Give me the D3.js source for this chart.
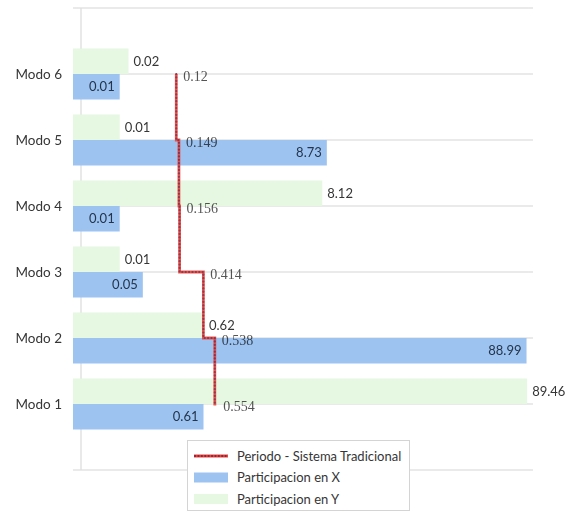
<!DOCTYPE html>
<html>
<head>
<meta charset="utf-8">
<script src="https://cdn.jsdelivr.net/npm/d3@7"></script>
<style>
  html, body { margin: 0; padding: 0; background: #fff; }
  svg { display: block; }
  .sans { font-family: Lato, "Open Sans", sans-serif; }
  .serif { font-family: "Liberation Serif", "DejaVu Serif", serif; }
</style>
</head>
<body>
<svg id="chart" width="574" height="513"></svg>
<script>
// Categories, bottom to top
const categories = ["Modo 1", "Modo 2", "Modo 3", "Modo 4", "Modo 5", "Modo 6"];
// Participacion en X (blue bars)
const partX = [0.61, 88.99, 0.05, 0.01, 8.73, 0.01];
// Participacion en Y (green bars)
const partY = [89.46, 0.62, 0.01, 8.12, 0.01, 0.02];
// Periodo - Sistema Tradicional (step line, secondary axis)
const periodo = [0.554, 0.538, 0.414, 0.156, 0.149, 0.12];
// Legend entries
const legendLabels = ["Periodo - Sistema Tradicional", "Participacion en X", "Participacion en Y"];

const svg = d3.select("#chart");
svg.append("rect").attr("width", 574).attr("height", 513).attr("fill", "#fff");

const plot = { left: 73, right: 533, top: 8, bottom: 470 };
const barH = 25.5;

const colX = "#9dc3f1";
const colY = "#e6f8e1";
const colLine = "#e5463a";
const colDots = "#8a2140";

// Vertical position: categories sit on integer positions 1..6
const y = d3.scaleLinear().domain([0, categories.length + 1]).range([plot.bottom, plot.top]);
// Bar length: compressed power scale so small shares remain visible
const xBar = d3.scalePow().exponent(0.25).domain([0, 95]).range([plot.left, plot.right + 1]);
// Secondary scale for the step line
const xSec = d3.scaleLinear().domain([-1, 4]).range([plot.left, plot.right + 1]);

// Horizontal gridlines
svg.append("g")
  .selectAll("line")
  .data(y.ticks(categories.length + 1))
  .join("line")
  .attr("x1", plot.left).attr("x2", plot.right)
  .attr("y1", d => y(d)).attr("y2", d => y(d))
  .attr("stroke", "#e3e3e3").attr("stroke-width", 1.3);

// Vertical axis line
svg.append("line")
  .attr("x1", 81).attr("x2", 81)
  .attr("y1", plot.top).attr("y2", plot.bottom)
  .attr("stroke", "#dedede").attr("stroke-width", 1.3);

const rows = categories.map((c, i) => ({ cat: c, pos: i + 1, vx: partX[i], vy: partY[i], vp: periodo[i] }));

// Green bars (above category line)
svg.append("g").selectAll("rect")
  .data(rows).join("rect")
  .attr("x", plot.left)
  .attr("y", d => y(d.pos) - barH)
  .attr("width", d => xBar(d.vy) - plot.left)
  .attr("height", barH)
  .attr("fill", colY);

// Blue bars (below category line)
svg.append("g").selectAll("rect")
  .data(rows).join("rect")
  .attr("x", plot.left)
  .attr("y", d => y(d.pos))
  .attr("width", d => xBar(d.vx) - plot.left)
  .attr("height", barH)
  .attr("fill", colX);

// Category labels
svg.append("g").attr("class", "sans").selectAll("text")
  .data(rows).join("text")
  .attr("x", 62)
  .attr("y", d => y(d.pos))
  .attr("dy", "0.35em")
  .attr("text-anchor", "end")
  .attr("font-size", 13.5)
  .attr("fill", "#363636")
  .text(d => d.cat);

// Y value labels, outside bar end
svg.append("g").attr("class", "sans").selectAll("text")
  .data(rows).join("text")
  .attr("x", d => xBar(d.vy) + 5)
  .attr("y", d => y(d.pos) - barH / 2)
  .attr("dy", "0.35em")
  .attr("font-size", 13)
  .attr("fill", "#363636")
  .text(d => d.vy.toFixed(2));

// X value labels, inside bar end
svg.append("g").attr("class", "sans").selectAll("text")
  .data(rows).join("text")
  .attr("x", d => xBar(d.vx) - 5)
  .attr("y", d => y(d.pos) + barH / 2)
  .attr("dy", "0.35em")
  .attr("text-anchor", "end")
  .attr("font-size", 13)
  .attr("fill", "#25344a")
  .text(d => d.vx.toFixed(2));

// Step line, drawn top (Modo 6) to bottom (Modo 1)
const linePts = rows.slice().reverse();
const stepLine = d3.line()
  .x(d => xSec(d.vp))
  .y(d => y(d.pos))
  .curve(d3.curveStepBefore);

const lineG = svg.append("g").attr("opacity", 0.9);
lineG.append("path")
  .attr("d", stepLine(linePts))
  .attr("fill", "none")
  .attr("stroke", colLine)
  .attr("stroke-width", 2.8);
lineG.append("path")
  .attr("d", stepLine(linePts))
  .attr("fill", "none")
  .attr("stroke", colDots)
  .attr("stroke-width", 2.2)
  .attr("stroke-linecap", "round")
  .attr("stroke-dasharray", "0.1,3.3");

// Line value labels
svg.append("g").attr("class", "serif").selectAll("text")
  .data(rows).join("text")
  .attr("x", d => xSec(d.vp) + 7)
  .attr("y", d => y(d.pos) + 2.5)
  .attr("dy", "0.35em")
  .attr("font-size", 14)
  .attr("fill", "#555555")
  .style("mix-blend-mode", "multiply")
  .text(d => String(d.vp));

// Legend
const lg = svg.append("g").attr("class", "sans");
lg.append("rect")
  .attr("x", 187.5).attr("y", 440.5)
  .attr("width", 222).attr("height", 70)
  .attr("fill", "#fff")
  .attr("stroke", "#d4d4d4");

const rowY = [456, 477.5, 499];
const sw = { x: 194, w: 34 };
lg.append("line")
  .attr("x1", sw.x).attr("x2", sw.x + sw.w)
  .attr("y1", rowY[0]).attr("y2", rowY[0])
  .attr("stroke", colLine).attr("stroke-width", 2.8);
lg.append("line")
  .attr("x1", sw.x + 1).attr("x2", sw.x + sw.w)
  .attr("y1", rowY[0]).attr("y2", rowY[0])
  .attr("stroke", colDots).attr("stroke-width", 2.2)
  .attr("stroke-linecap", "round")
  .attr("stroke-dasharray", "0.1,3.3");
lg.append("rect")
  .attr("x", sw.x).attr("y", rowY[1] - 5)
  .attr("width", sw.w).attr("height", 10)
  .attr("fill", colX);
lg.append("rect")
  .attr("x", sw.x).attr("y", rowY[2] - 5)
  .attr("width", sw.w).attr("height", 10)
  .attr("fill", colY);

lg.selectAll("text.leg")
  .data(legendLabels).join("text")
  .attr("class", "leg")
  .attr("x", 237)
  .attr("y", (d, i) => rowY[i])
  .attr("dy", "0.35em")
  .attr("font-size", 13)
  .attr("fill", "#363636")
  .text(d => d);
</script>
</body>
</html>
